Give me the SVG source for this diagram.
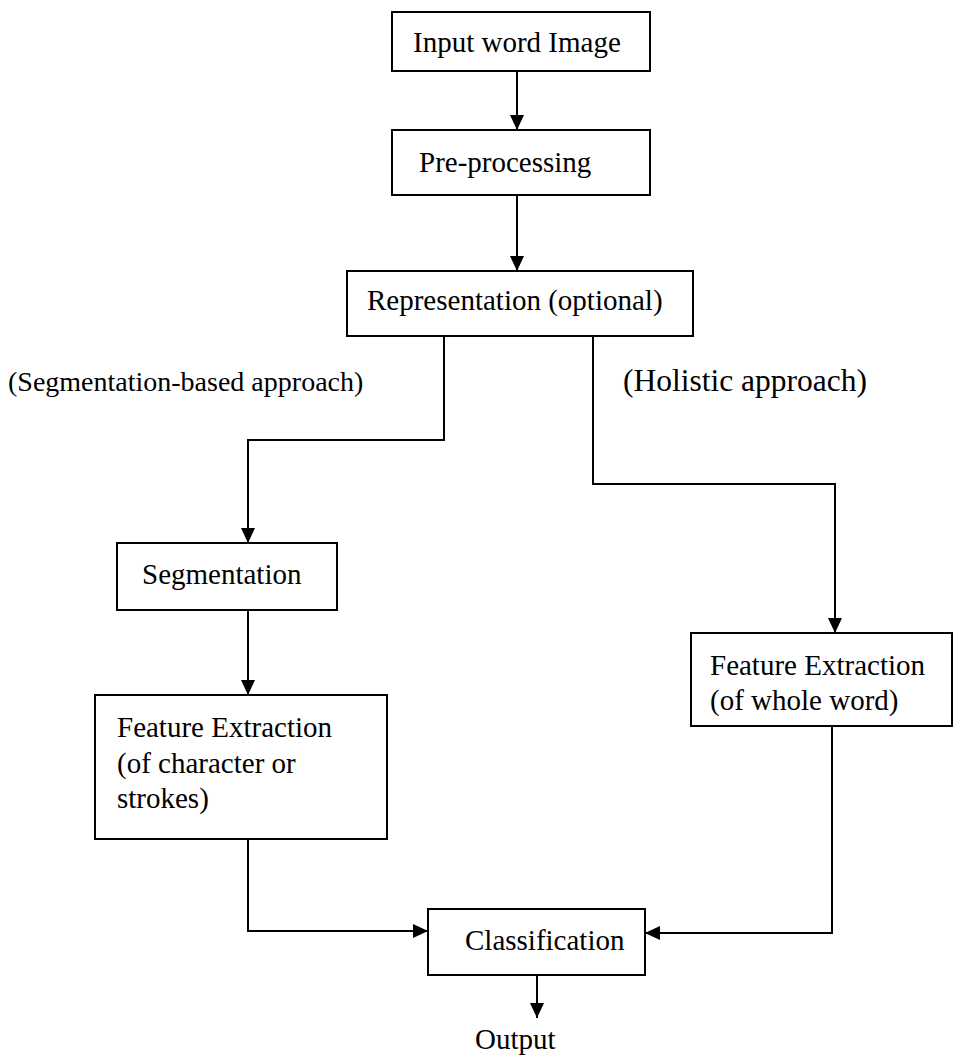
<svg xmlns="http://www.w3.org/2000/svg" width="954" height="1057" viewBox="0 0 954 1057">
<style>
.box{fill:#fff;stroke:#000;stroke-width:2}
.t{font-family:"Liberation Serif","Times New Roman",serif;font-size:29px;fill:#000}
.c{fill:none;stroke:#000;stroke-width:2}
</style>
<defs>
<marker id="ah" markerUnits="userSpaceOnUse" markerWidth="14" markerHeight="15" refX="15" refY="7" orient="auto">
<path d="M0,0 L15,7 L0,14 z" fill="#000"/>
</marker>
</defs>
<rect width="954" height="1057" fill="#fff"/>
<g id="connectors">
<path class="c" d="M517,71 V130" marker-end="url(#ah)"/>
<path class="c" d="M517,195 V271" marker-end="url(#ah)"/>
<path class="c" d="M444,336 V440 H248 V543" marker-end="url(#ah)"/>
<path class="c" d="M593,336 V484 H835 V633" marker-end="url(#ah)"/>
<path class="c" d="M248,610 V695" marker-end="url(#ah)"/>
<path class="c" d="M248,839 V931 H428" marker-end="url(#ah)"/>
<path class="c" d="M832,726 V933 H645" marker-end="url(#ah)"/>
<path class="c" d="M537,975 V1018" marker-end="url(#ah)"/>
</g>
<g id="input">
<rect class="box" x="392" y="12" width="258" height="59"/>
<text class="t" x="413" y="52">Input word Image</text>
</g>
<g id="preprocessing">
<rect class="box" x="392" y="130" width="258" height="65"/>
<text class="t" x="419" y="172">Pre-processing</text>
</g>
<g id="representation">
<rect class="box" x="347" y="271" width="346" height="65"/>
<text class="t" x="367" y="310">Representation (optional)</text>
</g>
<g id="label-seg">
<text class="t" x="8" y="391" style="font-size:28px">(Segmentation-based approach)</text>
</g>
<g id="label-holistic">
<text class="t" x="623" y="391" style="font-size:31.5px">(Holistic approach)</text>
</g>
<g id="segmentation">
<rect class="box" x="117" y="543" width="220" height="67"/>
<text class="t" x="142" y="584">Segmentation</text>
</g>
<g id="fe-char">
<rect class="box" x="95" y="695" width="292" height="144"/>
<text class="t" x="117" y="737">Feature Extraction</text>
<text class="t" x="117" y="773">(of character or</text>
<text class="t" x="117" y="808">strokes)</text>
</g>
<g id="fe-word">
<rect class="box" x="691" y="633" width="261" height="93"/>
<text class="t" x="710" y="675">Feature Extraction</text>
<text class="t" x="710" y="710">(of whole word)</text>
</g>
<g id="classification">
<rect class="box" x="428" y="909" width="217" height="66"/>
<text class="t" x="465" y="950">Classification</text>
</g>
<g id="output">
<text class="t" x="475" y="1049">Output</text>
</g>
</svg>
